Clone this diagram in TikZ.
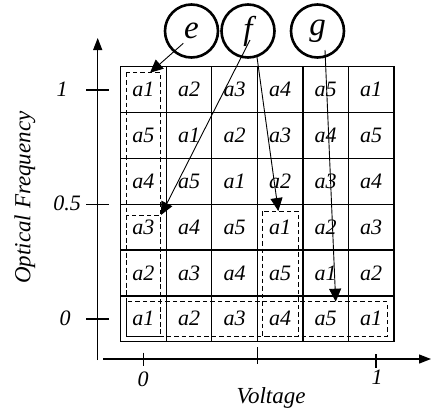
\documentclass[tikz,border=0pt]{standalone}
\usepackage{fontspec}
\setmainfont{Liberation Serif}
\usetikzlibrary{arrows.meta,calc}
\begin{document}
\begin{tikzpicture}[x=1pt,y=-1pt,
  cell/.style={draw,line width=1.3pt,minimum width=45.55pt,minimum height=45.83pt,
    inner sep=0pt,font=\fontsize{22}{22}\selectfont\itshape},
  ring/.style={draw,circle,line width=2.6pt,minimum size=53pt,inner sep=0pt,
    font=\fontsize{33}{33}\selectfont\itshape},
  axis/.style={line width=1.3pt},
  tick/.style={line width=1.1pt},
  ticklabel/.style={font=\fontsize{22}{22}\selectfont\itshape,inner sep=0pt},
  axislabel/.style={font=\fontsize{23}{23}\selectfont\itshape,inner sep=0pt},
  group/.style={line width=0.9pt,dash pattern=on 4.5pt off 3pt},
  pointer/.style={line width=0.9pt,-{Triangle[length=13pt,width=12pt]}}
]
\useasboundingbox (0,0) rectangle (433,418);

% table of cells
\foreach \row [count=\r from 0] in
  {{a1,a2,a3,a4,a5,a1},{a5,a1,a2,a3,a4,a5},{a4,a5,a1,a2,a3,a4},
   {a3,a4,a5,a1,a2,a3},{a2,a3,a4,a5,a1,a2},{a1,a2,a3,a4,a5,a1}}
  \foreach \t [count=\c from 0] in \row
    \node[cell] (c\r\c) at ({120.7+45.55*(\c+0.5)},{66.7+45.83*(\r+0.5)}) {\raisebox{-2pt}{\t}};

% dashed groupings
\draw[group] (126,72.7) rectangle (160.7,336);
\draw[group] (126,215.7) rectangle (160.7,336);
\draw[group] (262.5,211) rectangle (298,336);
\draw[group] (126,301.7) rectangle (387.3,336);

% labelled circles
\node[ring] (e) at (191.5,31) {e};
\node[ring] (f) at (248,31) {f};
\node[ring] (g) at (317.5,31) {g};

% pointer ends
\coordinate (eOut) at (183.3,43.3);
\coordinate (fOutA) at (250,40);
\coordinate (fOutB) at (256.7,55);
\coordinate (gOut) at (325,50);
\coordinate (eTip) at (150,72.7);
\coordinate (fTipA) at (161,215);
\coordinate (fTipB) at (278.3,211);
\coordinate (gTip) at (335.7,301.7);

\draw[pointer] (eOut) -- (eTip);
\draw[pointer] (fOutA) -- (fTipA);
\draw[pointer] (fOutB) -- (fTipB);
\draw[pointer] (gOut) -- (gTip);

% axes
\coordinate (yBase) at (97.7,360);
\coordinate (yTop) at (97.7,38);
\coordinate (xBase) at (103,359);
\coordinate (xEnd) at (431,359);
\draw[axis,-{Triangle[length=12pt,width=9pt]}] (yBase) -- (yTop);
\draw[axis,-{Triangle[length=12pt,width=9pt]}] (xBase) -- (xEnd);

% ticks on the frequency axis
\foreach \yy/\lab/\lx in {90/1/62,204.5/0.5/67,319/0/65} {
  \draw[tick] (86,\yy) -- (108.7,\yy);
  \node[ticklabel] at (\lx,\yy-1) {\lab};
}
% ticks on the voltage axis
\draw[tick] (143.3,352.7) -- (143.3,366);
\draw[tick] (257.3,347) -- (257.3,364);
\draw[tick] (376,354) -- (376,368);
\node[ticklabel] (x0) at (143,379) {0};
\node[ticklabel] (x1) at (377,377) {1};

\node[axislabel] (xl) at (271,398) {Voltage};
\node[axislabel,rotate=90] (yl) at (25,197.5) {Optical Frequency};
\end{tikzpicture}
\end{document}
